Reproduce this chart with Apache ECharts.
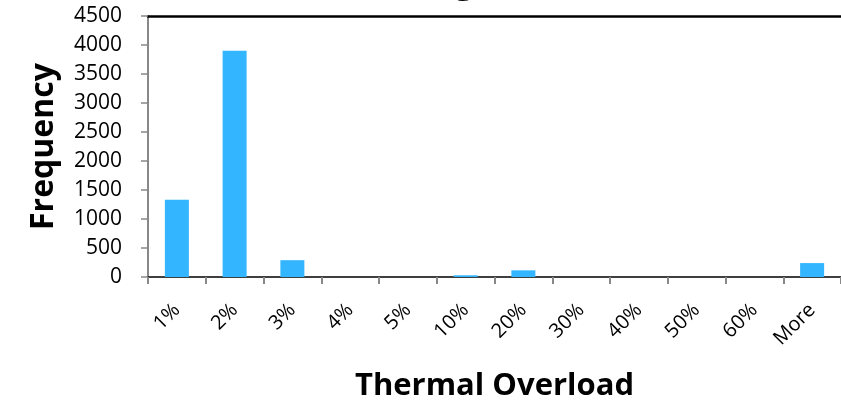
<!DOCTYPE html>
<html>
<head>
<meta charset="utf-8">
<script src="https://cdn.jsdelivr.net/npm/echarts@6/dist/echarts.min.js"></script>
<style>
html,body{margin:0;padding:0;background:#fff;}
#chart{width:841px;height:407px;}
</style>
</head>
<body>
<div id="chart"></div>
<script>
const categories = ['1%','2%','3%','4%','5%','10%','20%','30%','40%','50%','60%','More'];
const frequency = [1330, 3900, 290, 0, 0, 30, 115, 0, 0, 0, 0, 240];
const chartTitle = 'Histogram';
const xTitle = 'Thermal Overload';
const yTitle = 'Frequency';

const FONT = '"Open Sans", "DejaVu Sans", sans-serif';
const chart = echarts.init(document.getElementById('chart'), null, {renderer: 'canvas'});
chart.setOption({
  animation: false,
  backgroundColor: '#ffffff',
  graphic: [{
    type: 'text',
    x: 454, y: -18,
    style: {
      text: chartTitle,
      font: 'bold 36px ' + FONT,
      fill: '#000',
      align: 'center',
      verticalAlign: 'middle'
    }
  }],
  grid: {left: 148, top: 16, width: 696, height: 261},
  xAxis: [{
    type: 'category',
    data: categories,
    position: 'bottom',
    axisLine: {lineStyle: {color: '#000', width: 1.5}},
    axisTick: {show: true, length: 7, lineStyle: {color: '#888', width: 2}},
    axisLabel: {rotate: 45, margin: 30, fontSize: 20, color: '#000', fontFamily: FONT, interval: 0},
    name: xTitle,
    nameLocation: 'middle',
    nameGap: 94,
    nameTextStyle: {fontSize: 31, fontWeight: 'bold', color: '#000', fontFamily: FONT}
  }, {
    type: 'category',
    data: categories,
    position: 'top',
    axisLine: {lineStyle: {color: '#000', width: 2.5}},
    axisTick: {show: false},
    axisLabel: {show: false}
  }],
  yAxis: {
    type: 'value',
    min: 0, max: 4500, interval: 500,
    axisLine: {show: true, lineStyle: {color: '#888', width: 2}},
    axisTick: {show: true, length: 7, lineStyle: {color: '#888', width: 1.5}},
    splitLine: {show: false},
    axisLabel: {margin: 26, fontSize: 21, color: '#000', fontFamily: FONT, formatter: v => String(v)},
    name: yTitle,
    nameLocation: 'middle',
    nameRotate: 90,
    nameGap: 88,
    nameTextStyle: {fontSize: 32, fontWeight: 'bold', color: '#000', fontFamily: FONT}
  },
  series: [{
    type: 'bar',
    data: frequency,
    barWidth: 24,
    itemStyle: {color: '#33b5ff'}
  }]
});
</script>
</body>
</html>
